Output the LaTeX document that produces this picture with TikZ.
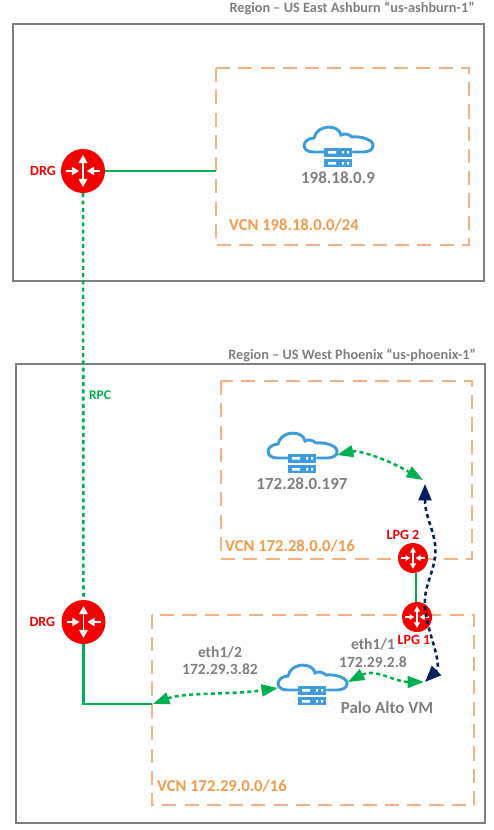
\documentclass[tikz,border=0pt]{standalone}
\usepackage{fontspec}
\setmainfont{Carlito}
\usepackage{xcolor}
\usetikzlibrary{arrows.meta, positioning}

\definecolor{regiongray}{HTML}{7F7F7F}
\definecolor{vcnorange}{HTML}{F4B183}
\definecolor{vcntext}{HTML}{F29B4B}
\definecolor{linkgreen}{HTML}{00B050}
\definecolor{linknavy}{HTML}{002060}
\definecolor{cloudblue}{HTML}{3E9BDC}
\definecolor{routerred}{HTML}{F40000}

\begin{document}
\begin{tikzpicture}[
  x=0.03cm, y=-0.03cm,
  region/.style={draw=regiongray, line width=1.7pt},
  vcn/.style={draw=vcnorange, line width=1.4pt, dash pattern=on 12pt off 7pt},
  router/.style={circle, fill=routerred, inner sep=0pt, minimum size=1.32cm},
  smallrouter/.style={router, minimum size=0.9cm},
  solidlink/.style={draw=linkgreen, line width=2.2pt},
  dotlink/.style={draw=linkgreen, line width=2.2pt, dash pattern=on 3.4pt off 2.8pt},
  curvelink/.style={dotlink, {Triangle[length=14pt,width=10pt]}-{Triangle[length=14pt,width=10pt]}},
  navylink/.style={draw=linknavy, line width=2.2pt, dash pattern=on 3.4pt off 2.8pt,
                   {Triangle[length=14pt,width=11pt]}-{Triangle[length=14pt,width=11pt]}},
  regionlabel/.style={font=\fontsize{12.2}{14}\selectfont\bfseries, text=regiongray, inner sep=0pt},
  vcnlabel/.style={font=\fontsize{14.2}{16}\selectfont\bfseries, text=vcntext, inner sep=0pt, anchor=west},
  iplabel/.style={font=\fontsize{14.5}{16}\selectfont\bfseries, text=regiongray, inner sep=0pt},
  portlabel/.style={font=\fontsize{13.3}{15}\selectfont\bfseries, text=regiongray, inner sep=0pt, align=center},
  redlabel/.style={font=\fontsize{12}{14}\selectfont\bfseries, text=routerred, inner sep=0pt},
  rpclabel/.style={font=\fontsize{11.4}{14}\selectfont\bfseries, text=linkgreen, inner sep=0pt},
  pics/routericon/.style={code={
    \begin{scope}[scale=#1]
    \draw[white, line width=1.3pt, {Triangle[length=7pt*#1,width=7.5pt*#1]}-{Triangle[length=7pt*#1,width=7.5pt*#1]}] (0,-16) -- (0,16);
    \draw[white, line width=1.3pt, -{Triangle[length=6pt*#1,width=7pt*#1]}] (-17,0) -- (-4,0);
    \draw[white, line width=1.3pt, -{Triangle[length=6pt*#1,width=7pt*#1]}] (17,0) -- (4,0);
    \end{scope}
  }},
  pics/cloudicon/.style={code={
    \draw[cloudblue, line width=2.5pt, line cap=round]
      (-14,4) -- (-25,4) .. controls (-37,4) and (-37,-9) .. (-24,-10)
      .. controls (-21,-24) and (1,-24) .. (3,-13) .. controls (6,-15) and (11,-14) .. (14,-11)
      .. controls (24,-12) and (36,-8) .. (35,-2) .. controls (35,2) and (30,4) .. (25,4) -- (15,4);
    \fill[cloudblue] (-14,0) rectangle (14,8.5);
    \fill[cloudblue] (-14,11) rectangle (14,19);
    \fill[white] (-10,3) rectangle (-2,5.5) (4,3) rectangle (6,5.5) (9,3) rectangle (11,5.5);
    \fill[white] (-10,14) rectangle (-2,16.5) (4,14) rectangle (6,16.5) (9,14) rectangle (11,16.5);
  }},
]
\useasboundingbox (0,0) rectangle (493,830);
% regions
\draw[region] (13,24) rectangle (484,281);
\draw[region] (16,364) rectangle (485,823);
\node[regionlabel] (easttitle) at (352,8) {Region – US East Ashburn “us-ashburn-1”};
\node[regionlabel] (westtitle) at (352,355) {Region – US West Phoenix “us-phoenix-1”};
% vcn boxes
\draw[vcn] (216,68) rectangle (469,245);
\draw[vcn] (221,381) rectangle (472,559);
\draw[vcn] (152,615) rectangle (474,805);
\node[vcnlabel] (vcneast) at (229,225) {VCN 198.18.0.0/24};
\node[vcnlabel] (vcnspoke) at (225,546) {VCN 172.28.0.0/16};
\node[vcnlabel] (vcnhub) at (157,786) {VCN 172.29.0.0/16};
% routers
\node[router] (drgeast) at (83,171) {};
\node[router] (drgwest) at (83.5,622) {};
\node[smallrouter] (lpgtwo) at (413,558) {};
\node[smallrouter] (lpgone) at (417,617) {};
\pic at (drgeast) {routericon=1};
\pic at (drgwest) {routericon=1};
\pic at (lpgtwo) {routericon=0.68};
\pic at (lpgone) {routericon=0.68};
\node[redlabel, left=4pt of drgeast] (drgeastlabel) {DRG};
\node[redlabel, left=5pt of drgwest] (drgwestlabel) {DRG};
\node[redlabel] (lpgtwolabel) at (403,535) {LPG 2};
\node[redlabel] (lpgonelabel) at (414,640) {LPG 1};
% clouds
\pic at (338,148) {cloudicon};
\pic at (302,454) {cloudicon};
\pic at (312,686) {cloudicon};
\node[iplabel] (ipeast) at (338,178) {198.18.0.9};
\node[iplabel] (ipspoke) at (302,484) {172.28.0.197};
\node[iplabel] (paloalto) at (387,708) {Palo Alto VM};
\node[portlabel] (porttwo) at (220,660.5) {eth1/2\\172.29.3.82};
\node[portlabel] (portone) at (373,653) {eth1/1\\172.29.2.8};
% named ends of the links
\coordinate (eastedge) at (216,171);
\coordinate (hubcorner) at (83.5,704);
\coordinate (hubedge) at (152,704);
\coordinate (twotip) at (153,704);
\coordinate (hubleft) at (278,688);
\coordinate (hubright) at (348,682);
\coordinate (hubtip) at (424,682);
\coordinate (spokeright) at (337,455);
\coordinate (spoketip) at (423,480);
\coordinate (navytop) at (425,484);
\coordinate (navybottom) at (425,682);
\coordinate (lpgtop) at (416,573);
\coordinate (lpgbottom) at (416,602);
% links
\draw[solidlink] (drgeast) -- (eastedge);
\draw[solidlink] (drgwest) -- (hubcorner) -- (hubedge);
\draw[solidlink] (lpgtop) -- (lpgbottom);
\draw[dotlink] (drgeast) -- (drgwest);
\node[rpclabel] (rpc) at (100,395) {RPC};
\draw[curvelink] (twotip) .. controls (185,692) and (230,695) .. (hubleft);
\draw[curvelink] (spokeright) .. controls (358,450) and (385,458) .. (spoketip);
\draw[curvelink] (hubright) .. controls (375,668) and (395,682) .. (hubtip);
\draw[navylink] (navytop) .. controls (425,520) and (438,535) .. (435,557)
  .. controls (432,580) and (420,590) .. (427,620) .. controls (431,640) and (442,665) .. (navybottom);
\end{tikzpicture}
\end{document}
